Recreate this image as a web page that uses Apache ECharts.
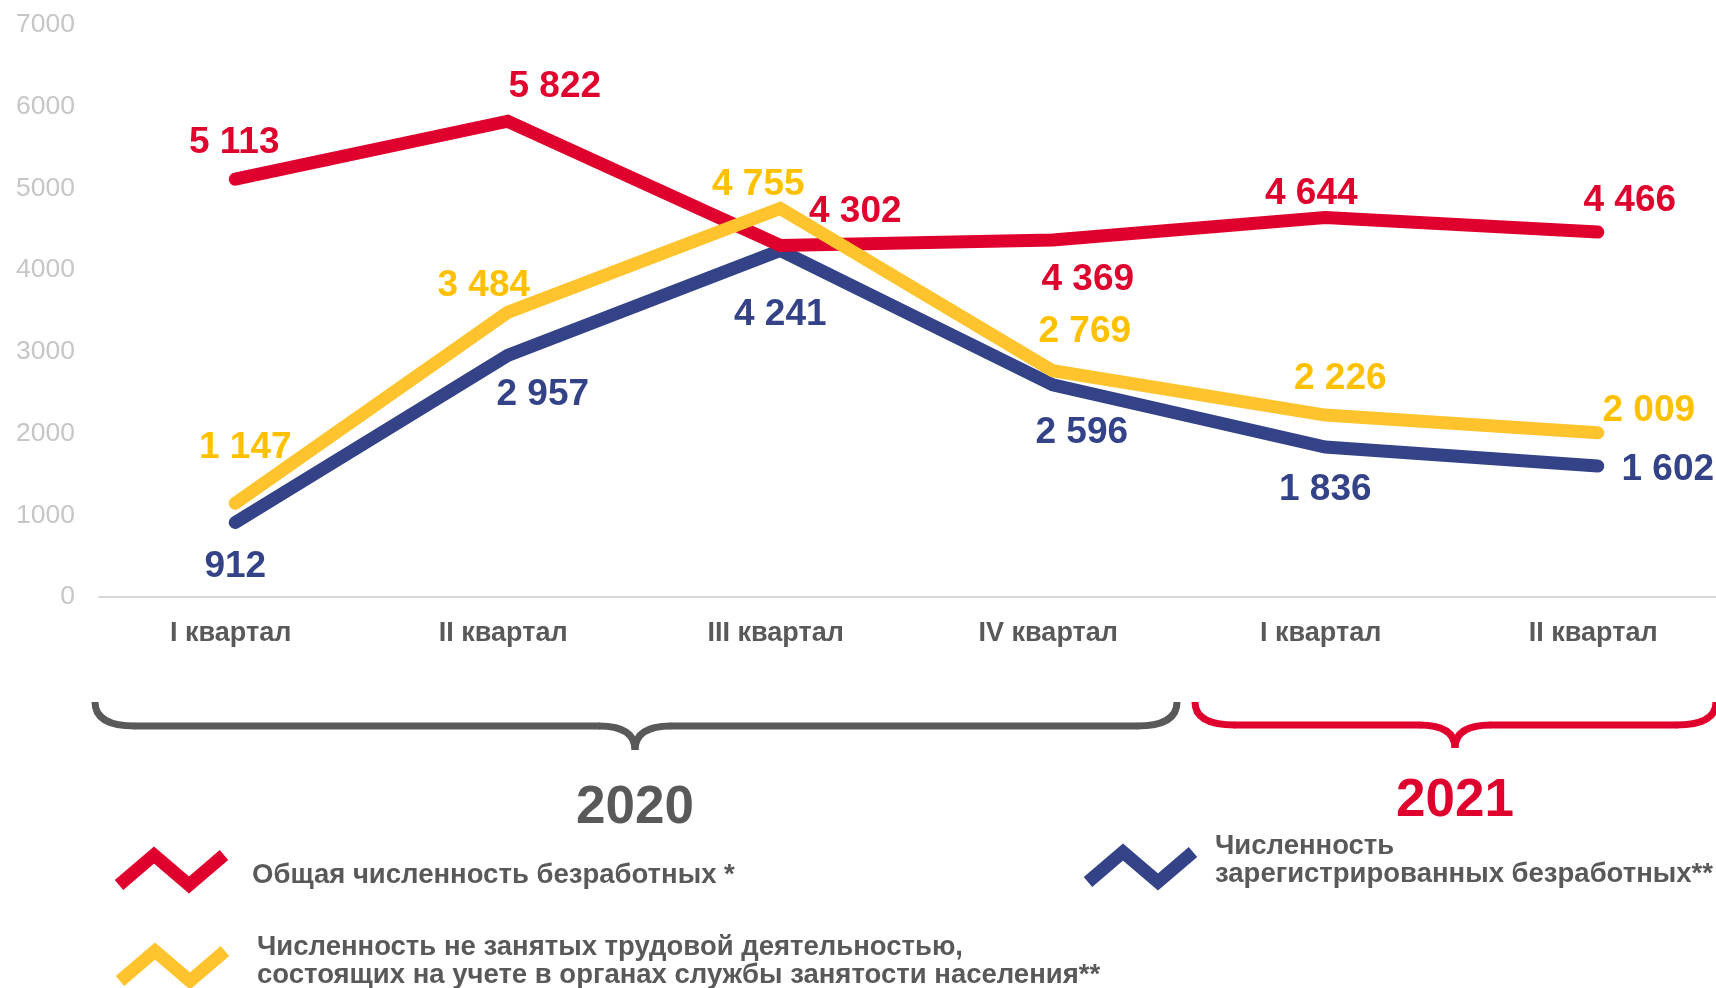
<!DOCTYPE html>
<html lang="ru">
<head>
<meta charset="utf-8">
<title>Численность безработных</title>
<script src="https://cdn.jsdelivr.net/npm/echarts@6/dist/echarts.min.js"></script>
<style>
  html, body { margin: 0; padding: 0; background: #fff; overflow: hidden; }
  /* чуть шире окна: правый край оси уходит за кадр */
  #chart { width: 1740px; height: 988px; }
</style>
</head>
<body>
<div id="chart"></div>
<script>
// данные
const quarters = ['I квартал', 'II квартал', 'III квартал', 'IV квартал', 'I квартал', 'II квартал']
const years = ['2020', '2021']
const totalUnemployed = [5113, 5822, 4302, 4369, 4644, 4466]
const notEmployed = [1147, 3484, 4755, 2769, 2226, 2009]
const registered = [912, 2957, 4241, 2596, 1836, 1602]
const seriesNames = [
  'Общая численность безработных *',
  'Численность не занятых трудовой деятельностью,\nсостоящих на учете в органах службы занятости населения**',
  'Численность\nзарегистрированных безработных**'
]

// смещения подписей относительно точек
const totalOffsets = [[-1, -36], [47, -34], [75, -34], [35, 40], [-14, -24], [32, -31]]
const notEmployedOffsets = [[10, -55], [-24, -27], [-22, -24], [32, -39], [15, -36], [51, -22]]
const registeredOffsets = [[0, 44], [35, 39], [0, 64], [29, 48], [0, 43], [70, 4]]

const RED = '#e0002d'
const YELLOW = '#ffc32d'
const BLUE = '#344287'
const GREY = '#595959'
const FONT = '"Liberation Sans", Arial, sans-serif'

const fmt = (v) => String(v).replace(/\B(?=(\d{3})+(?!\d))/g, ' ')

const makeSeries = (name, values, offsets, color, labelColor, z) => ({
  name,
  type: 'line',
  z,
  data: values.map((v, i) => ({
    value: v,
    label: { offset: offsets[i] }
  })),
  symbol: 'circle',
  symbolSize: 1,
  itemStyle: { color },
  lineStyle: { color, width: 13, cap: 'round', join: 'miter' },
  label: {
    show: true,
    position: 'inside',
    formatter: (p) => fmt(p.value),
    color: labelColor,
    fontFamily: FONT,
    fontWeight: 'bold',
    fontSize: 37
  },
  silent: true
})

// фигурная скобка из отрезков и кривых
const brace = (L, R, C, T, M, P, color) => {
  const st = { fill: null, stroke: color, lineWidth: 7 }
  const curve = (x1, y1, cx, cy, x2, y2) => ({
    type: 'bezierCurve',
    shape: { x1, y1, x2, y2, cpx1: cx, cpy1: cy },
    style: st,
    silent: true
  })
  const line = (x1, y1, x2, y2) => ({
    type: 'line',
    shape: { x1, y1, x2, y2 },
    style: st,
    silent: true
  })
  return {
    type: 'group',
    children: [
      curve(L, T, L, M, L + 40, M),
      line(L + 39, M, C - 35, M),
      curve(C - 36, M, C, M, C, P),
      curve(C, P, C, M, C + 36, M),
      line(C + 35, M, R - 39, M),
      curve(R - 40, M, R, M, R, T)
    ]
  }
}

// значок легенды
const zigzag = (x, cy, color) => ({
  type: 'polyline',
  shape: { points: [[x + 6, cy + 15], [x + 41, cy - 15], [x + 76, cy + 15], [x + 111, cy - 15]] },
  style: { fill: null, stroke: color, lineWidth: 13, lineJoin: 'miter' },
  silent: true
})

const legendText = (x, y, text) => ({
  type: 'text',
  style: {
    x, y, text,
    fill: GREY,
    font: 'bold 27.5px ' + FONT,
    lineHeight: 28,
    verticalAlign: 'middle'
  },
  silent: true
})

const chart = echarts.init(document.getElementById('chart'))

const option = {
  animation: false,
  backgroundColor: '#fff',
  grid: { left: 99, top: 25, width: 1635, height: 572 },
  xAxis: {
    type: 'category',
    data: quarters,
    boundaryGap: true,
    axisLine: { lineStyle: { color: '#d9d9d9', width: 2 } },
    axisTick: { show: false },
    axisLabel: {
      color: GREY,
      fontFamily: FONT,
      fontWeight: 'bold',
      fontSize: 27,
      margin: 23,
      padding: [0, 9, 0, 0]
    }
  },
  yAxis: {
    type: 'value',
    min: 0,
    max: 7000,
    interval: 1000,
    axisLine: { show: false },
    axisTick: { show: false },
    splitLine: { show: false },
    axisLabel: {
      color: '#c6c6c6',
      fontFamily: FONT,
      fontSize: 26.5,
      margin: 24,
      padding: [5, 0, 0, 0],
      formatter: (v) => String(v)
    }
  },
  series: [
    makeSeries(seriesNames[2], registered, registeredOffsets, BLUE, BLUE, 2),
    makeSeries(seriesNames[0], totalUnemployed, totalOffsets, RED, RED, 3),
    makeSeries(seriesNames[1], notEmployed, notEmployedOffsets, YELLOW, '#ffc000', 4)
  ],
  graphic: [
    brace(95, 1177, 635, 702, 726, 750, GREY),
    brace(1195, 1716, 1455, 702, 725, 748, RED),
    {
      type: 'text',
      style: { x: 635, y: 808, text: years[0], fill: GREY, font: 'bold 53px ' + FONT, align: 'center', verticalAlign: 'middle' },
      silent: true
    },
    {
      type: 'text',
      style: { x: 1455, y: 801, text: years[1], fill: RED, font: 'bold 53px ' + FONT, align: 'center', verticalAlign: 'middle' },
      silent: true
    },
    zigzag(113, 870, RED),
    legendText(252, 875, seriesNames[0]),
    zigzag(1082, 867, BLUE),
    legendText(1215, 860, seriesNames[2]),
    zigzag(114, 966, YELLOW),
    legendText(257, 961, seriesNames[1])
  ]
}

chart.setOption(option)
</script>
</body>
</html>
